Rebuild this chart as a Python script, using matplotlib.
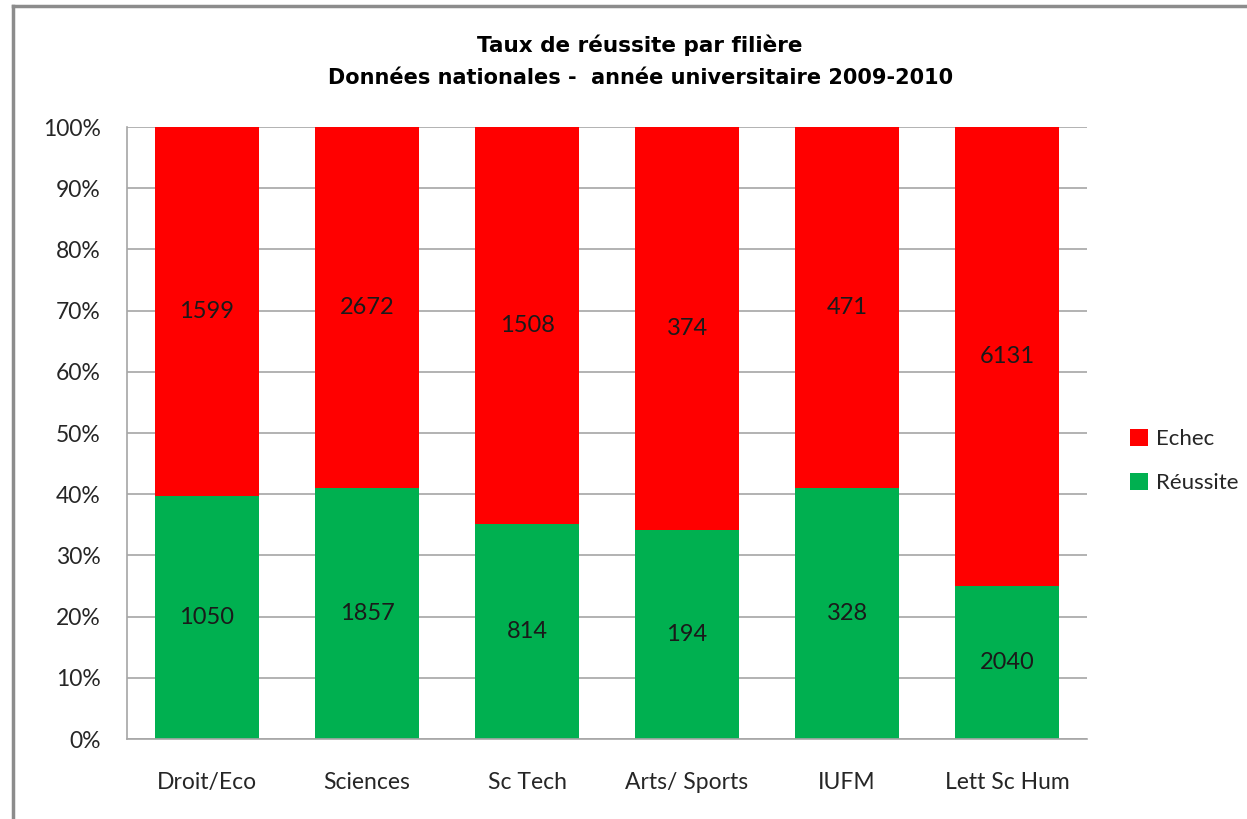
import matplotlib
matplotlib.use("Agg")
import matplotlib.pyplot as plt
from matplotlib.lines import Line2D
from matplotlib.patches import Patch
import numpy as np

categories = ["Droit/Eco", "Sciences", "Sc Tech", "Arts/ Sports", "IUFM", "Lett Sc Hum"]
reussite = [1050, 1857, 814, 194, 328, 2040]
echec = [1599, 2672, 1508, 374, 471, 6131]
yticks = ["0%", "10%", "20%", "30%", "40%", "50%", "60%", "70%", "80%", "90%", "100%"]

W, H = 1247, 819
fig = plt.figure(figsize=(W / 100, H / 100), dpi=100)
fig.patch.set_facecolor("white")
ax = fig.add_axes([127 / W, 1 - 739 / H, (1087 - 127) / W, (739 - 127) / H])

reu = np.array(reussite, float)
ech = np.array(echec, float)
tot = reu + ech
p_reu = reu / tot * 100
p_ech = ech / tot * 100
x = np.arange(len(categories))
green = "#00B050"
red = "#FF0000"
ax.bar(x, p_reu, width=0.65, color=green, zorder=2)
ax.bar(x, p_ech, width=0.65, bottom=p_reu, color=red, zorder=2)

fnt = "Lato"
for i in range(len(x)):
    ax.text(x[i], p_reu[i] / 2, str(reussite[i]), ha="center", va="center",
            fontsize=17, color="#1a1a1a", family=fnt)
    ax.text(x[i], p_reu[i] + p_ech[i] / 2, str(echec[i]), ha="center", va="center",
            fontsize=17, color="#1a1a1a", family=fnt)

ax.set_xlim(-0.5, len(x) - 0.5)
ax.set_ylim(0, 100)
ax.set_yticks(np.arange(0, 101, 10))
ax.set_yticklabels(yticks, family=fnt, fontsize=16.5, color="#262626")
ax.set_xticks(x)
ax.set_xticklabels(categories, family=fnt, fontsize=16.5, color="#262626")
ax.tick_params(axis="both", length=0)
ax.tick_params(axis="y", pad=19)
ax.tick_params(axis="x", pad=24)
ax.yaxis.grid(True, color="#a6a6a6", linewidth=1.2, zorder=0)
ax.set_axisbelow(True)
for s in ["top", "right"]:
    ax.spines[s].set_visible(False)
for s in ["left", "bottom"]:
    ax.spines[s].set_color("#a6a6a6")
    ax.spines[s].set_linewidth(1.2)

fig.text(640 / W, 1 - 45 / H, "Taux de réussite par filière", ha="center", va="center",
         fontsize=15.5, fontweight="bold", family="DejaVu Sans")
fig.text(641 / W, 1 - 78 / H, "Données nationales -  année universitaire 2009-2010", ha="center",
         va="center", fontsize=15, fontweight="bold", family="DejaVu Sans")

handles = [Patch(facecolor=red, label="Echec"), Patch(facecolor=green, label="Réussite")]
leg = fig.legend(handles=handles, loc="center left", bbox_to_anchor=(1110 / W, 1 - 461 / H),
                 frameon=False, prop={"family": fnt, "size": 16}, handlelength=0.8,
                 handleheight=0.8, handletextpad=0.35, labelspacing=1.1)
for t in leg.get_texts():
    t.set_color("#262626")

# chart border
fig.add_artist(Line2D([13 / W, 13 / W], [0, 1 - 6 / H], color="#8c8c8c", linewidth=2.5,
                      transform=fig.transFigure))
fig.add_artist(Line2D([13 / W, 1], [1 - 6 / H, 1 - 6 / H], color="#8c8c8c", linewidth=2.5,
                      transform=fig.transFigure))

fig.savefig("out.png", dpi=100)
